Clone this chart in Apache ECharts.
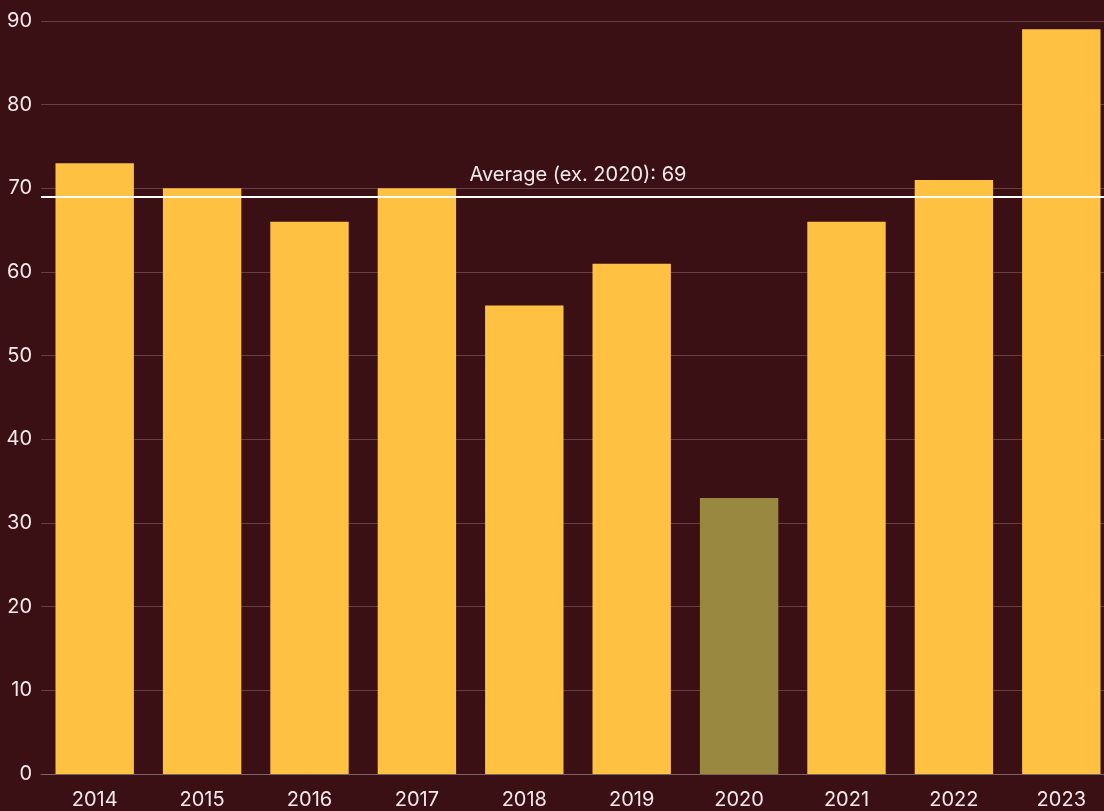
<!DOCTYPE html>
<html>
<head>
<meta charset="utf-8">
<script src="https://cdn.jsdelivr.net/npm/echarts@6/dist/echarts.min.js"></script>
<style>
  html, body { margin: 0; padding: 0; background: #3b1014; }
  #chart { width: 1104px; height: 811px; }
</style>
</head>
<body>
<div id="chart"></div>
<script>
// Yearly values, with 2020 shown in a muted colour
const years = ['2014', '2015', '2016', '2017', '2018', '2019', '2020', '2021', '2022', '2023'];
const values = [73, 70, 66, 70, 56, 61, 33, 66, 71, 89];
const highlightYear = '2020';
const averageValue = 69;
const averageLabel = 'Average (ex. 2020): 69';

const chart = echarts.init(document.getElementById('chart'));
const textColor = '#f2eaea';
const font = 'Inter, "Noto Sans", sans-serif';

chart.setOption({
  backgroundColor: '#3b1014',
  animation: false,
  // plot area runs a little past the right edge of the canvas
  grid: { left: 41, width: 1074, top: 21, height: 753, outerBoundsMode: 'none', containLabel: false },
  xAxis: {
    type: 'category',
    data: years,
    axisLine: { show: true, lineStyle: { color: '#7d6264', width: 1 } },
    axisTick: { show: false },
    axisLabel: { color: textColor, fontSize: 20, fontFamily: font, margin: 16 }
  },
  yAxis: {
    type: 'value',
    min: 0,
    max: 90,
    interval: 10,
    axisLine: { show: false },
    axisTick: { show: false },
    axisLabel: { color: textColor, fontSize: 20, fontFamily: font, margin: 9 },
    splitLine: { lineStyle: { color: '#634044', width: 1 } }
  },
  series: [{
    type: 'bar',
    barWidth: '73%',
    data: values.map((v, i) => ({
      value: v,
      itemStyle: { color: years[i] === highlightYear ? '#998840' : '#ffc142' }
    })),
    markLine: {
      silent: true,
      symbol: 'none',
      lineStyle: { color: '#ffffff', width: 2, type: 'solid' },
      label: {
        position: 'middle',
        formatter: averageLabel,
        color: textColor,
        fontSize: 20,
        fontFamily: font,
        distance: 12
      },
      data: [{ yAxis: averageValue }]
    }
  }]
});
</script>
</body>
</html>
